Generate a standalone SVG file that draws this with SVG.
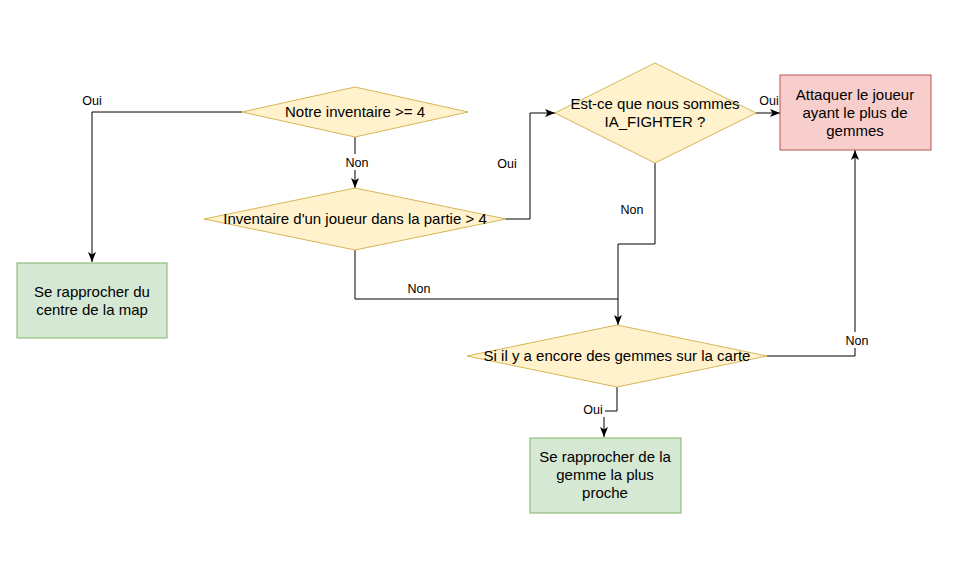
<svg xmlns="http://www.w3.org/2000/svg" width="961" height="566" viewBox="0 0 961 566">
<style>
.dec{fill:#fff2cc;stroke:#d6b656;stroke-width:1}
.grn{fill:#d5e8d4;stroke:#82b366;stroke-width:1}
.red{fill:#f8cecc;stroke:#b85450;stroke-width:1}
.t{font-family:"Liberation Sans",Arial,sans-serif;font-size:15px;fill:#000;text-anchor:middle}
.lb{font-family:"Liberation Sans",Arial,sans-serif;font-size:12.5px;fill:#000;text-anchor:middle}
.e{fill:none;stroke:#000;stroke-width:1}
</style>
<defs>
<marker id="arr" viewBox="0 0 10 10" refX="10" refY="5" markerWidth="10" markerHeight="10" markerUnits="userSpaceOnUse" orient="auto">
<path d="M0,1 L10,5 L0,9 L2.5,5 z" fill="#000"/>
</marker>
</defs>
<rect width="961" height="566" fill="#fff"/>
<g id="connectors">
<path class="e" d="M242,112 L92,112 L92,262" marker-end="url(#arr)"/>
<path class="e" d="M355,137 L355,188" marker-end="url(#arr)"/>
<path class="e" d="M505,219 L530,219 L530,113 L555,113" marker-end="url(#arr)"/>
<path class="e" d="M756,113 L780,113" marker-end="url(#arr)"/>
<path class="e" d="M655,163 L655,244 L618,244 L618,325" marker-end="url(#arr)"/>
<path class="e" d="M355,250 L355,299 L618,299"/>
<path class="e" d="M767,356 L855,356 L855,150" marker-end="url(#arr)"/>
<path class="e" d="M617,387 L617,411 L604,411 L604,437" marker-end="url(#arr)"/>
<text class="lb" x="92" y="104.5">Oui</text>
<rect x="343" y="154" width="28" height="16" fill="#fff"/>
<text class="lb" x="357" y="166.5">Non</text>
<text class="lb" x="507" y="167.5">Oui</text>
<text class="lb" x="769" y="104.5">Oui</text>
<text class="lb" x="632" y="213.5">Non</text>
<text class="lb" x="419" y="292.5">Non</text>
<rect x="843" y="332" width="28" height="16" fill="#fff"/>
<text class="lb" x="857" y="344.5">Non</text>
<rect x="581" y="401" width="24" height="16" fill="#fff"/>
<text class="lb" x="593" y="413.5">Oui</text>
</g>
<g id="d1">
<polygon class="dec" points="355,87 468,112 355,137 242,112"/>
<text class="t" x="355" y="117">Notre inventaire &gt;= 4</text>
</g>
<g id="d2">
<polygon class="dec" points="355,188 506,219 355,250 204,219"/>
<text class="t" x="355" y="224">Inventaire d'un joueur dans la partie &gt; 4</text>
</g>
<g id="d3">
<polygon class="dec" points="655,63 756,113 655,163 555,113"/>
<text class="t" x="655" y="109">Est-ce que nous sommes</text>
<text class="t" x="655" y="127">IA_FIGHTER ?</text>
</g>
<g id="d4">
<polygon class="dec" points="617,325 767,356 617,387 467,356"/>
<text class="t" x="617" y="361">Si il y a encore des gemmes sur la carte</text>
</g>
<g id="b1">
<rect class="grn" x="17" y="263" width="150" height="75"/>
<text class="t" x="92" y="297">Se rapprocher du</text>
<text class="t" x="92" y="315">centre de la map</text>
</g>
<g id="b2">
<rect class="red" x="780" y="75" width="151" height="75"/>
<text class="t" x="855" y="100">Attaquer le joueur</text>
<text class="t" x="855" y="118">ayant le plus de</text>
<text class="t" x="855" y="136">gemmes</text>
</g>
<g id="b3">
<rect class="grn" x="530" y="438" width="151" height="75"/>
<text class="t" x="605" y="462">Se rapprocher de la</text>
<text class="t" x="605" y="480">gemme la plus</text>
<text class="t" x="605" y="498">proche</text>
</g>
</svg>
